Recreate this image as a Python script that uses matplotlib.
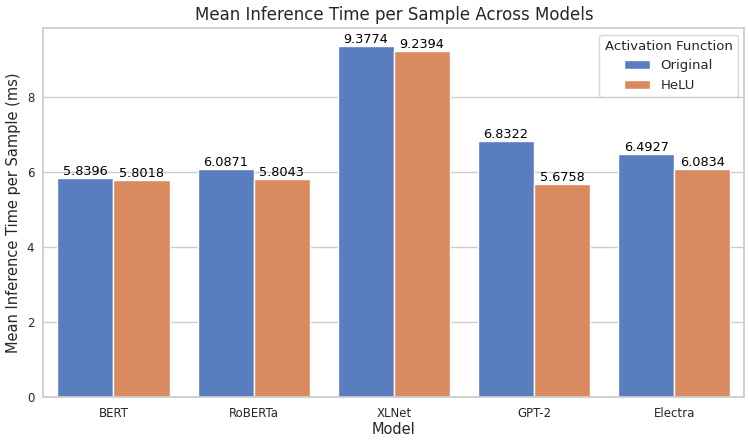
import matplotlib
matplotlib.use("Agg")
import matplotlib.pyplot as plt
import seaborn as sns
import pandas as pd

models = ["BERT", "RoBERTa", "XLNet", "GPT-2", "Electra"]
original = [5.8396, 6.0871, 9.3774, 6.8322, 6.4927]
helu = [5.8018, 5.8043, 9.2394, 5.6758, 6.0834]
series_names = ["Original", "HeLU"]

rows = []
for m, o, h in zip(models, original, helu):
    rows.append({"Model": m, "Activation Function": series_names[0], "Time": o})
    rows.append({"Model": m, "Activation Function": series_names[1], "Time": h})
df = pd.DataFrame(rows)

sns.set_theme(style="whitegrid")
plt.rcParams['font.family'] = ['DejaVu Sans']

fig, ax = plt.subplots(figsize=(7.48, 4.44), dpi=100)
sns.barplot(data=df, x="Model", y="Time", hue="Activation Function",
            palette="muted", ax=ax)
for c in ax.containers:
    ax.bar_label(c, fmt="%.4f", fontsize=9.3, color="black")

ax.set_title("Mean Inference Time per Sample Across Models", fontsize=12)
ax.set_xlabel("Model", fontsize=10.5, labelpad=2)
ax.set_ylabel("Mean Inference Time per Sample (ms)", fontsize=10.5, labelpad=4)
ax.tick_params(axis='x', labelsize=8.5, pad=1)
ax.tick_params(axis='y', labelsize=8.5, pad=0.5)
ax.legend(title="Activation Function", loc="upper right", fontsize=9.5, title_fontsize=9.5)
fig.subplots_adjust(left=0.058, right=0.995, top=0.937, bottom=0.106)
fig.savefig("out.png", dpi=100)
